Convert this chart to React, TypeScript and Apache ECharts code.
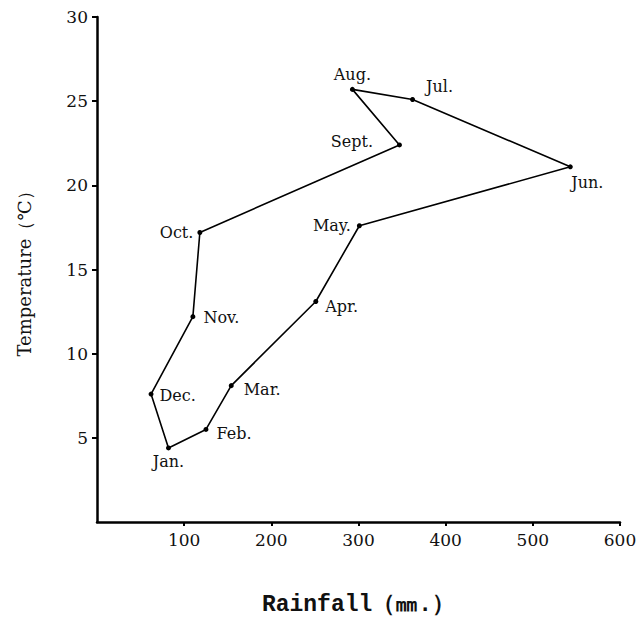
import React, { useEffect, useRef } from "react";
import * as echarts from "echarts";

const months = ["Jan.", "Feb.", "Mar.", "Apr.", "May.", "Jun.", "Jul.", "Aug.", "Sept.", "Oct.", "Nov.", "Dec."];
const rainfall = [82, 125, 154, 251, 301, 543, 362, 293, 347, 118, 110, 62];
const temperature = [4.4, 5.5, 8.1, 13.1, 17.6, 21.1, 25.1, 25.7, 22.4, 17.2, 12.2, 7.6];
const xTicks = [100, 200, 300, 400, 500, 600];
const yTicks = [5, 10, 15, 20, 25, 30];

const labelPlacement: Record<string, any> = {
  "Jan.": { position: "bottom", distance: 3 },
  "Feb.": { position: "right", distance: 8, offset: [0, 4] },
  "Mar.": { position: "right", distance: 10, offset: [0, 4] },
  "Apr.": { position: "right", distance: 7, offset: [0, 5] },
  "May.": { position: "left", distance: 6 },
  "Jun.": { position: "bottom", distance: 5, offset: [17, 0] },
  "Jul.": { position: "top", distance: 2, offset: [27, 0] },
  "Aug.": { position: "top", distance: 4 },
  "Sept.": { position: "left", distance: 24, offset: [0, -3] },
  "Oct.": { position: "left", distance: 4 },
  "Nov.": { position: "right", distance: 8, offset: [0, 1] },
  "Dec.": { position: "right", distance: 6, offset: [0, 1] },
};

const FONT = "'DejaVu Serif', 'Liberation Serif', serif";

export default function App() {
  const ref = useRef<HTMLDivElement>(null);
  useEffect(() => {
    if (!ref.current) return;
    const chart = echarts.init(ref.current, null, { renderer: "svg" });
    const data: any[] = months.map((m, i) => ({
      value: [rainfall[i], temperature[i]],
      name: m,
      label: { show: true, formatter: m, ...labelPlacement[m] },
    }));
    // close the loop back to January
    data.push({ value: [rainfall[0], temperature[0]], symbolSize: 0, label: { show: false } });

    chart.setOption({
      animation: false,
      backgroundColor: "#ffffff",
      grid: { left: 97, right: 21, top: 17, bottom: 89, containLabel: false },
      xAxis: {
        type: "value",
        min: 0,
        max: 600,
        interval: 100,
        name: "Rainfall（㎜.）",
        nameLocation: "middle",
        nameGap: 71,
        nameTextStyle: { fontFamily: "'Liberation Mono', 'DejaVu Sans Mono', monospace", fontSize: 23, fontWeight: "bold", color: "#111" },
        axisLine: { show: true, onZero: false, lineStyle: { color: "#000", width: 2.5 } },
        axisTick: { show: true, inside: false, length: 4, lineStyle: { color: "#000", width: 2 } },
        axisLabel: {
          showMinLabel: false,
          margin: 9,
          fontFamily: FONT,
          fontSize: 17,
          color: "#111",
          formatter: (v: number) => (xTicks.includes(v) ? String(v) : ""),
        },
        splitLine: { show: false },
      },
      yAxis: {
        type: "value",
        min: 0,
        max: 30,
        interval: 5,
        name: "Temperature（℃）",
        nameLocation: "middle",
        nameRotate: 90,
        nameGap: 64,
        nameTextStyle: { fontFamily: FONT, fontSize: 18, color: "#111" },
        axisLine: { show: true, onZero: false, lineStyle: { color: "#000", width: 2.5 } },
        axisTick: { show: true, inside: false, length: 5, lineStyle: { color: "#000", width: 2 } },
        axisLabel: {
          showMinLabel: false,
          margin: 9,
          fontFamily: FONT,
          fontSize: 17,
          color: "#111",
          formatter: (v: number) => (yTicks.includes(v) ? String(v) : ""),
        },
        splitLine: { show: false },
      },
      series: [
        {
          type: "line",
          data,
          symbol: "circle",
          symbolSize: 5,
          itemStyle: { color: "#000" },
          lineStyle: { color: "#000", width: 1.6 },
          label: { fontFamily: FONT, fontSize: 16, color: "#111" },
          emphasis: { disabled: true },
        },
      ],
    });
    return () => chart.dispose();
  }, []);
  return <div ref={ref} style={{ position: "fixed", left: 0, top: 0, width: 641, height: 621, background: "#fff" }} />;
}
